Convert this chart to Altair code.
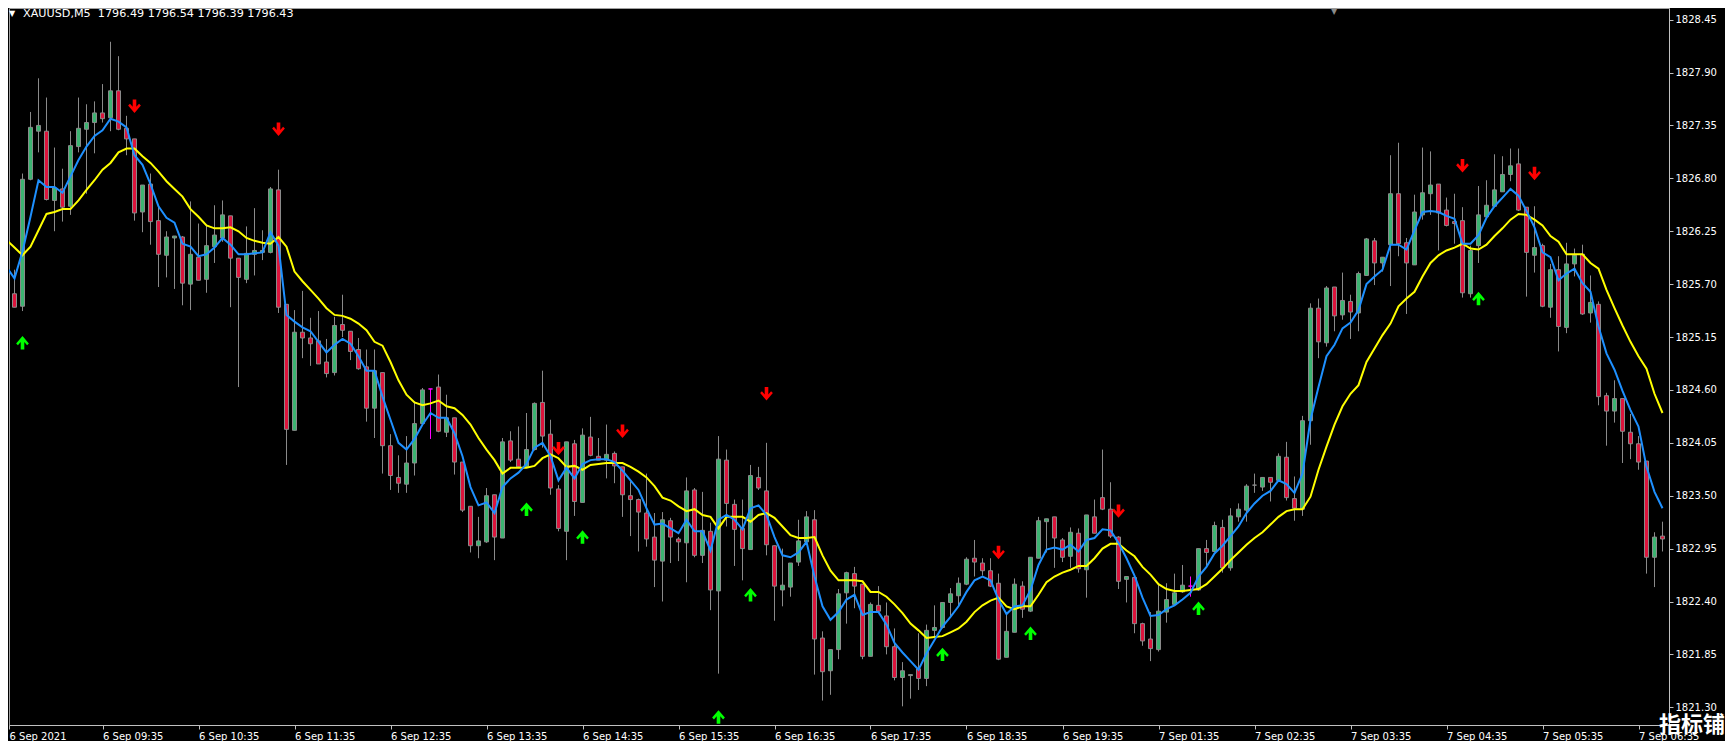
import altair as alt
import pandas as pd

# ---------------- data ----------------
open_ = [1825.55,1825.60,1825.47,1826.79,1827.29,1827.29,1826.57,1826.69,1826.51,1827.13,
         1827.31,1827.38,1827.48,1827.43,1827.71,1827.32,1827.21,1826.45,1826.74,1826.36,
         1826.00,1826.18,1826.19,1825.70,1825.98,1825.75,1826.09,1826.18,1826.41,1825.97,
         1825.75,1826.01,1826.03,1826.03,1826.68,1825.49,1824.18,1825.20,1825.14,1825.11,
         1824.89,1824.78,1825.28,1825.21,1825.02,1824.84,1824.41,1824.78,1824.02,1823.69,
         1823.62,1823.84,1824.25,1824.61,1824.63,1824.16,1824.31,1823.85,1823.39,1822.98,
         1823.02,1823.51,1823.06,1824.07,1823.88,1823.80,1823.98,1824.47,1824.14,1823.57,
         1823.13,1824.04,1823.43,1824.11,1823.91,1823.87,1823.94,1823.80,1823.50,1823.46,
         1823.32,1823.07,1822.82,1823.24,1823.05,1823.01,1823.56,1822.88,1823.13,1822.51,
         1823.87,1823.41,1823.16,1822.94,1823.69,1823.55,1822.98,1822.52,1822.55,1822.81,
         1823.02,1823.25,1822.02,1821.68,1821.90,1822.49,1822.69,1822.58,1821.83,1822.36,
         1822.25,1821.93,1821.61,1821.63,1821.70,1821.60,1822.10,1822.13,1822.39,1822.46,
         1822.58,1822.85,1822.80,1822.72,1822.59,1821.82,1822.08,1822.56,1822.30,1822.85,
         1823.23,1823.28,1823.04,1822.87,1823.11,1822.73,1823.28,1823.48,1823.36,1823.07,
         1822.63,1822.65,1822.17,1822.01,1821.90,1822.29,1822.37,1822.50,1822.56,1822.52,
         1822.95,1822.92,1823.17,1822.75,1823.28,1823.35,1823.61,1823.59,1823.69,1823.66,
         1823.90,1823.47,1823.36,1824.28,1825.45,1825.09,1825.67,1825.38,1825.52,1825.40,
         1825.79,1826.15,1825.92,1826.11,1826.64,1826.13,1825.90,1826.42,1826.64,1826.74,
         1826.47,1826.35,1826.36,1825.60,1826.10,1826.40,1826.51,1826.66,1826.84,1826.95,
         1826.50,1826.00,1826.10,1825.46,1825.85,1825.25,1825.91,1826.01,1825.40,1825.49,
         1824.54,1824.38,1824.51,1824.16,1824.04,1823.86,1822.86,1823.08]
high_ = [1826.45,1825.85,1826.85,1827.49,1827.84,1827.64,1827.12,1826.90,1827.29,1827.64,
         1827.57,1827.60,1827.78,1828.22,1828.07,1827.45,1827.21,1826.73,1826.85,1826.51,
         1826.25,1826.20,1826.20,1826.56,1826.33,1826.31,1826.52,1826.57,1826.41,1825.97,
         1826.30,1826.49,1826.26,1826.71,1826.89,1825.49,1825.43,1825.63,1825.35,1825.42,
         1825.13,1825.36,1825.59,1825.21,1825.14,1825.02,1825.02,1824.78,1824.14,1823.92,
         1824.12,1824.48,1824.62,1824.61,1824.76,1824.55,1824.31,1823.85,1823.39,1823.28,
         1823.58,1823.51,1824.10,1824.17,1824.22,1824.36,1824.47,1824.80,1824.29,1823.61,
         1824.06,1824.08,1824.20,1824.32,1824.10,1824.24,1823.96,1823.80,1823.65,1823.47,
         1823.73,1823.32,1823.33,1823.27,1823.07,1823.69,1823.58,1823.54,1823.22,1824.12,
         1823.98,1823.46,1823.46,1823.82,1823.80,1824.05,1822.98,1822.95,1822.80,1823.25,
         1823.34,1823.35,1822.09,1821.90,1822.53,1822.71,1822.76,1822.58,1822.39,1822.56,
         1822.39,1822.12,1821.77,1821.64,1822.07,1822.16,1822.36,1822.39,1822.54,1822.65,
         1822.86,1823.04,1822.85,1822.85,1822.69,1822.27,1822.64,1822.61,1822.86,1823.28,
         1823.26,1823.28,1823.06,1823.17,1823.16,1823.30,1823.46,1823.98,1823.64,1823.08,
         1822.66,1822.65,1822.18,1822.29,1822.58,1822.59,1822.69,1822.78,1822.66,1822.95,
         1823.04,1823.23,1823.25,1823.37,1823.42,1823.62,1823.73,1823.69,1823.69,1823.94,
         1824.06,1823.70,1824.33,1825.50,1825.55,1825.68,1825.67,1825.82,1825.59,1825.83,
         1826.18,1826.18,1825.98,1827.04,1827.17,1826.18,1826.63,1827.12,1827.08,1826.74,
         1826.60,1826.64,1826.50,1826.10,1826.72,1826.78,1827.05,1827.03,1827.11,1827.11,
         1826.50,1826.51,1826.12,1825.91,1825.99,1826.13,1826.07,1826.11,1825.79,1825.52,
         1824.57,1824.70,1824.51,1824.35,1824.12,1823.86,1823.12,1823.23]
low_ = [1825.41,1825.46,1825.42,1826.78,1827.07,1826.57,1826.25,1826.35,1826.42,1827.07,
        1826.64,1827.06,1827.38,1827.29,1827.30,1827.04,1826.36,1826.24,1826.11,1825.67,
        1825.77,1825.65,1825.48,1825.43,1825.74,1825.61,1825.92,1826.14,1825.46,1824.63,
        1825.71,1825.79,1825.95,1826.02,1825.40,1823.82,1824.18,1824.93,1824.85,1824.87,
        1824.73,1824.75,1825.15,1824.91,1824.81,1824.27,1824.10,1823.73,1823.56,1823.53,
        1823.53,1823.71,1824.25,1824.09,1824.16,1824.11,1823.72,1823.33,1822.91,1822.85,
        1823.01,1822.83,1823.06,1823.85,1823.79,1823.79,1823.97,1824.00,1823.51,1823.13,
        1822.83,1823.29,1823.43,1823.91,1823.87,1823.68,1823.63,1823.28,1823.08,1822.92,
        1822.97,1822.55,1822.40,1822.80,1822.82,1822.60,1822.86,1822.80,1822.31,1821.65,
        1823.18,1822.77,1822.62,1822.94,1823.56,1822.88,1822.20,1822.35,1822.45,1822.77,
        1823.02,1821.64,1821.37,1821.43,1821.80,1822.17,1822.33,1821.80,1821.83,1822.29,
        1821.85,1821.58,1821.31,1821.39,1821.48,1821.52,1822.03,1822.12,1822.24,1822.36,
        1822.57,1822.66,1822.67,1822.55,1821.79,1821.82,1822.08,1822.23,1822.29,1822.85,
        1822.91,1822.75,1822.81,1822.75,1822.70,1822.44,1823.11,1823.35,1823.06,1822.53,
        1822.39,1822.07,1821.94,1821.78,1821.88,1822.18,1822.36,1822.49,1822.45,1822.51,
        1822.77,1822.92,1822.70,1822.72,1823.23,1823.23,1823.53,1823.55,1823.44,1823.65,
        1823.45,1823.24,1823.29,1824.03,1824.93,1825.05,1825.21,1825.33,1825.13,1825.21,
        1825.79,1825.69,1825.83,1825.68,1825.99,1825.39,1825.90,1826.37,1826.42,1826.05,
        1826.30,1826.12,1825.56,1825.56,1825.92,1826.39,1826.51,1826.66,1826.77,1826.46,
        1825.57,1825.82,1825.46,1825.35,1825.00,1825.19,1825.78,1825.38,1825.30,1824.44,
        1824.02,1824.26,1823.84,1823.88,1823.77,1822.69,1822.55,1822.92]
close_ = [1825.60,1825.46,1826.79,1827.33,1827.35,1826.58,1826.70,1826.50,1827.14,1827.32,
          1827.38,1827.48,1827.42,1827.71,1827.31,1827.21,1826.44,1826.73,1826.35,1826.01,
          1826.19,1826.20,1825.71,1826.01,1825.74,1826.10,1826.21,1826.42,1825.97,1825.77,
          1826.02,1826.05,1826.05,1826.69,1825.46,1824.19,1825.20,1825.14,1825.08,1824.87,
          1824.77,1825.27,1825.22,1825.00,1824.82,1824.41,1824.80,1824.02,1823.71,1823.63,
          1823.84,1824.25,1824.60,1824.61,1824.17,1824.31,1823.85,1823.35,1822.98,1823.03,
          1823.50,1823.07,1824.06,1823.87,1823.80,1823.98,1824.46,1824.12,1823.58,1823.16,
          1824.06,1823.44,1824.13,1823.92,1823.87,1823.93,1823.81,1823.51,1823.46,1823.33,
          1823.05,1822.83,1823.25,1823.07,1823.02,1823.55,1822.88,1823.14,1822.52,1823.88,
          1823.42,1823.15,1822.95,1823.71,1823.58,1822.99,1822.56,1822.57,1822.80,1823.03,
          1823.28,1822.01,1821.67,1821.90,1822.48,1822.70,1822.56,1821.83,1822.37,1822.30,
          1821.93,1821.61,1821.68,1821.64,1821.60,1822.10,1822.13,1822.39,1822.48,1822.59,
          1822.84,1822.81,1822.72,1822.56,1821.80,1822.09,1822.58,1822.32,1822.86,1823.24,
          1823.26,1823.06,1822.86,1823.12,1822.74,1823.30,1823.11,1823.36,1823.08,1822.61,
          1822.66,1822.17,1821.99,1821.91,1822.30,1822.42,1822.49,1822.57,1822.56,1822.95,
          1822.91,1823.19,1822.75,1823.29,1823.36,1823.60,1823.61,1823.69,1823.64,1823.91,
          1823.48,1823.37,1824.28,1825.45,1825.10,1825.66,1825.37,1825.53,1825.41,1825.81,
          1826.17,1825.92,1825.98,1826.64,1826.12,1825.92,1826.45,1826.65,1826.73,1826.44,
          1826.31,1826.33,1825.61,1826.05,1826.42,1826.52,1826.68,1826.84,1826.93,1826.47,
          1826.03,1826.08,1825.47,1825.85,1825.26,1825.91,1826.00,1825.39,1825.51,1824.53,
          1824.38,1824.51,1824.17,1824.04,1823.85,1822.86,1823.07,1823.05]
fast_ma = [1825.88,1825.76,1826.04,1826.40,1826.78,1826.71,1826.71,1826.65,1826.82,1826.99,
           1827.13,1827.24,1827.30,1827.42,1827.39,1827.33,1827.04,1826.94,1826.74,1826.51,
           1826.39,1826.34,1826.12,1826.09,1825.99,1826.01,1826.08,1826.18,1826.11,1826.01,
           1826.01,1826.02,1826.03,1826.24,1826.10,1825.38,1825.31,1825.25,1825.21,1825.10,
           1824.99,1825.07,1825.13,1825.08,1824.95,1824.80,1824.80,1824.53,1824.29,1824.05,
           1823.98,1824.09,1824.24,1824.36,1824.31,1824.31,1824.15,1823.91,1823.59,1823.40,
           1823.43,1823.32,1823.59,1823.68,1823.74,1823.83,1824.00,1824.05,1823.91,1823.66,
           1823.79,1823.68,1823.83,1823.87,1823.88,1823.88,1823.85,1823.76,1823.66,1823.56,
           1823.37,1823.20,1823.21,1823.16,1823.11,1823.25,1823.13,1823.13,1822.93,1823.25,
           1823.30,1823.25,1823.15,1823.37,1823.40,1823.30,1823.07,1822.88,1822.86,1822.91,
           1823.02,1822.66,1822.35,1822.21,1822.29,1822.42,1822.47,1822.26,1822.29,1822.29,
           1822.16,1821.97,1821.87,1821.78,1821.69,1821.86,1822.00,1822.14,1822.24,1822.35,
           1822.50,1822.62,1822.66,1822.62,1822.42,1822.27,1822.35,1822.36,1822.52,1822.78,
           1822.94,1822.96,1822.94,1822.99,1822.92,1823.04,1823.06,1823.15,1823.14,1823.01,
           1822.85,1822.67,1822.44,1822.25,1822.26,1822.32,1822.36,1822.42,1822.49,1822.66,
           1822.76,1822.90,1822.98,1823.08,1823.18,1823.32,1823.42,1823.50,1823.55,1823.66,
           1823.62,1823.53,1823.73,1824.29,1824.63,1824.95,1825.07,1825.24,1825.30,1825.43,
           1825.70,1825.78,1825.85,1826.11,1826.11,1826.06,1826.26,1826.45,1826.46,1826.45,
           1826.41,1826.38,1826.12,1826.12,1826.21,1826.39,1826.51,1826.60,1826.69,1826.62,
           1826.46,1826.29,1826.03,1825.98,1825.74,1825.81,1825.86,1825.71,1825.62,1825.26,
           1824.98,1824.81,1824.59,1824.39,1824.22,1823.80,1823.54,1823.37]
slow_ma = [1826.16,1826.08,1826.00,1826.09,1826.26,1826.43,1826.45,1826.48,1826.48,1826.57,
           1826.68,1826.78,1826.89,1826.96,1827.07,1827.11,1827.11,1827.03,1826.96,1826.87,
           1826.77,1826.69,1826.61,1826.48,1826.40,1826.31,1826.28,1826.28,1826.29,1826.25,
           1826.18,1826.15,1826.13,1826.12,1826.19,1826.09,1825.83,1825.73,1825.64,1825.55,
           1825.45,1825.38,1825.37,1825.34,1825.29,1825.22,1825.10,1825.06,1824.89,1824.70,
           1824.55,1824.47,1824.44,1824.46,1824.49,1824.43,1824.41,1824.34,1824.24,1824.10,
           1823.98,1823.87,1823.73,1823.79,1823.79,1823.79,1823.81,1823.89,1823.93,1823.89,
           1823.80,1823.81,1823.77,1823.82,1823.83,1823.84,1823.84,1823.84,1823.80,1823.75,
           1823.69,1823.60,1823.48,1823.45,1823.39,1823.34,1823.36,1823.30,1823.28,1823.16,
           1823.28,1823.28,1823.28,1823.23,1823.30,1823.32,1823.27,1823.18,1823.09,1823.06,
           1823.06,1823.07,1822.88,1822.72,1822.62,1822.62,1822.62,1822.61,1822.50,1822.50,
           1822.45,1822.37,1822.28,1822.17,1822.10,1822.02,1822.03,1822.04,1822.08,1822.12,
           1822.19,1822.29,1822.36,1822.41,1822.44,1822.35,1822.32,1822.35,1822.35,1822.47,
           1822.60,1822.66,1822.70,1822.73,1822.77,1822.77,1822.85,1822.95,1823.00,1823.00,
           1822.93,1822.87,1822.76,1822.68,1822.58,1822.53,1822.51,1822.51,1822.52,1822.53,
           1822.58,1822.66,1822.74,1822.83,1822.91,1822.99,1823.06,1823.12,1823.20,1823.28,
           1823.34,1823.36,1823.36,1823.49,1823.77,1824.01,1824.24,1824.43,1824.56,1824.65,
           1824.89,1825.03,1825.17,1825.29,1825.47,1825.55,1825.62,1825.78,1825.92,1826.00,
           1826.05,1826.08,1826.12,1826.07,1826.06,1826.11,1826.20,1826.28,1826.37,1826.43,
           1826.42,1826.37,1826.31,1826.20,1826.14,1826.01,1826.01,1826.01,1825.92,1825.86,
           1825.64,1825.45,1825.27,1825.10,1824.95,1824.82,1824.56,1824.36]
magenta_doji_bars = [53, 148]
sell_bars = [16, 34, 69, 77, 95, 124, 139, 182, 191]
sell_prices = [1827.55, 1827.31, 1823.99, 1824.17, 1824.56, 1822.91, 1823.34, 1826.93, 1826.85]
buy_bars = [2, 65, 72, 89, 93, 117, 128, 149, 184]
buy_prices = [1825.09, 1823.36, 1823.07, 1821.20, 1822.47, 1821.85, 1822.07, 1822.33, 1825.55]
time_labels = ["6 Sep 2021", "6 Sep 09:35", "6 Sep 10:35", "6 Sep 11:35", "6 Sep 12:35",
               "6 Sep 13:35", "6 Sep 14:35", "6 Sep 15:35", "6 Sep 16:35", "6 Sep 17:35",
               "6 Sep 18:35", "6 Sep 19:35", "7 Sep 01:35", "7 Sep 02:35", "7 Sep 03:35",
               "7 Sep 04:35", "7 Sep 05:35", "7 Sep 06:35"]
label_bars = [0, 12, 24, 36, 48, 60, 72, 84, 96, 108, 120, 132, 144, 156, 168, 180, 192, 204]
price_ticks = [1821.30, 1821.85, 1822.40, 1822.95, 1823.50, 1824.05, 1824.60, 1825.15,
               1825.70, 1826.25, 1826.80, 1827.35, 1827.90, 1828.45]
header = "XAUUSD,M5\u00a0 1796.49 1796.54 1796.39 1796.43"

# ---------------- tables ----------------
GREEN, RED, MAG, GREY = "#3CB371", "#DC143C", "#FF00FF", "#8a8a8a"
rows = []
for i in range(len(open_)):
    o, h, l, c = open_[i], high_[i], low_[i], close_[i]
    if i in magenta_doji_bars:
        fill, edge = MAG, MAG
    elif c > o:
        fill, edge = GREEN, GREY
    elif c < o:
        fill, edge = RED, GREY
    else:
        fill, edge = GREY, GREY
    rows.append(dict(bar=i, open=o, high=h, low=l, close=c, fast=fast_ma[i],
                     slow=slow_ma[i], fill=fill, edge=edge))
df = pd.DataFrame(rows)
sells = pd.DataFrame({"bar": sell_bars, "price": sell_prices})
buys = pd.DataFrame({"bar": buy_bars, "price": buy_prices})

W, H = 1660, 717
X0 = 0.3125
xscale = alt.Scale(domain=[X0, 207.8125], nice=False, zero=False, padding=0)
yscale = alt.Scale(domain=[1821.116, 1828.571], nice=False, zero=False, padding=0)
FONT = "DejaVu Sans"

# first label sits at the left edge of the plot (bar 0 is half cut off)
axis_vals = [max(b, X0) for b in label_bars]
labels_js = "[" + ",".join("'%s'" % s for s in time_labels) + "]"
xaxis = alt.Axis(values=axis_vals, labelExpr=labels_js + "[round(datum.value/12)]",
                 labelAlign="left", labelColor="white", labelFont=FONT, labelFontSize=10,
                 tickColor="#c0c0c0", tickSize=4, domainColor="#c0c0c0", grid=False,
                 title=None, labelPadding=2, labelOverlap=False, labelBound=False,
                 labelFlush=False)
yaxis = alt.Axis(orient="right", values=price_ticks, format=".2f", labelColor="white",
                 labelFont=FONT, labelFontSize=10, tickColor="#c0c0c0", tickSize=4,
                 domainColor="#c0c0c0", grid=False, title=None, labelPadding=2,
                 labelOverlap=False, labelFlush=False)

base = alt.Chart(df)
wicks = base.mark_rule(strokeWidth=1, clip=True).encode(
    x=alt.X("bar:Q", scale=xscale, axis=xaxis),
    y=alt.Y("low:Q", scale=yscale, axis=yaxis),
    y2="high:Q",
    color=alt.Color("edge:N", scale=None),
)
bodies = base.mark_bar(size=4, strokeWidth=1, clip=True).encode(
    x="bar:Q", y="open:Q", y2="close:Q",
    fill=alt.Fill("fill:N", scale=None),
    stroke=alt.Stroke("edge:N", scale=None),
)
slow_line = base.mark_line(color="#FFFF00", strokeWidth=2, clip=True).encode(
    x="bar:Q", y="slow:Q")
fast_line = base.mark_line(color="#1E90FF", strokeWidth=2, clip=True).encode(
    x="bar:Q", y="fast:Q")

down_path = ("M-0.27,-1 L0.27,-1 L0.27,0.1 L0.68,-0.38 L0.95,-0.1 L0,1 L-0.95,-0.1 "
             "L-0.68,-0.38 L-0.27,0.1 Z")
up_path = ("M-0.27,1 L0.27,1 L0.27,-0.1 L0.68,0.38 L0.95,0.1 L0,-1 L-0.95,0.1 "
           "L-0.68,0.38 L-0.27,-0.1 Z")
sell_marks = alt.Chart(sells).mark_point(shape=down_path, filled=True, size=180,
                                         color="#FF0000", opacity=1, clip=True).encode(
    x="bar:Q", y="price:Q")
buy_marks = alt.Chart(buys).mark_point(shape=up_path, filled=True, size=180,
                                       color="#00FF00", opacity=1, clip=True).encode(
    x="bar:Q", y="price:Q")

hdr = alt.Chart(pd.DataFrame({"t": [header]})).mark_text(
    align="left", baseline="middle", color="white", font=FONT, fontSize=11.2).encode(
    text="t:N", x=alt.value(14), y=alt.value(6))
tri = alt.Chart(pd.DataFrame({"t": ["▼"]})).mark_text(
    align="left", baseline="middle", color="white", font=FONT, fontSize=8).encode(
    text="t:N", x=alt.value(0), y=alt.value(6))
shift_mark = alt.Chart(pd.DataFrame({"t": ["▼"]})).mark_text(
    align="center", baseline="top", color="#8a8a8a", font=FONT, fontSize=8).encode(
    text="t:N", x=alt.value(1325), y=alt.value(0))
wm = alt.Chart(pd.DataFrame({"t": ["指标铺"]})).mark_text(
    align="right", baseline="middle", color="white", font="Noto Sans CJK SC",
    fontSize=22, fontWeight="bold").encode(
    text="t:N", x=alt.value(1716), y=alt.value(717))

chart = alt.layer(wicks, bodies, slow_line, fast_line, sell_marks, buy_marks, hdr, tri,
                  shift_mark, wm
                  ).properties(width=W, height=H, padding=0, background="black"
                  ).configure_view(stroke="#a0a0a0", strokeWidth=1)

chart.save("out.html", embed_options={"renderer": "svg", "actions": False})
